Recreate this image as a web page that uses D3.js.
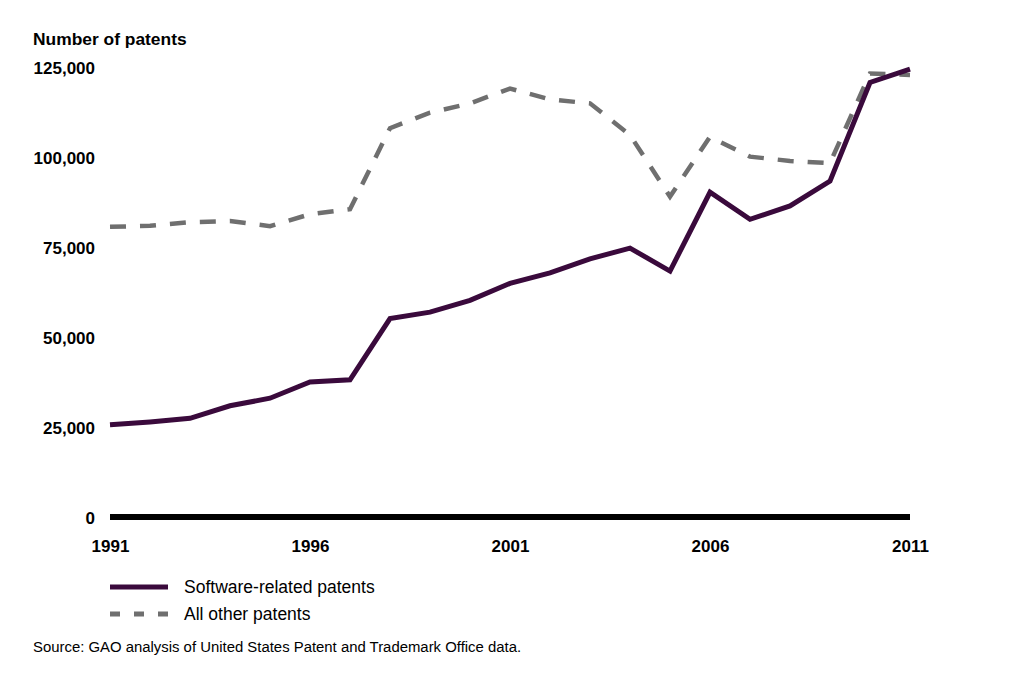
<!DOCTYPE html>
<html>
<head>
<meta charset="utf-8">
<script src="https://cdn.jsdelivr.net/npm/d3@7"></script>
<style>
  html, body { margin: 0; padding: 0; background: #fff; }
  svg { display: block; font-family: "Liberation Sans", Arial, sans-serif; }
</style>
</head>
<body>
<script>
const years = [1991,1992,1993,1994,1995,1996,1997,1998,1999,2000,2001,2002,2003,2004,2005,2006,2007,2008,2009,2010,2011];
const softwarePatents = [25600,26400,27400,30900,33000,37500,38100,55100,56900,60200,64900,67800,71700,74700,68300,90200,82700,86400,93300,120700,124400];
const otherPatents = [80600,80900,81900,82200,80800,84100,85500,108000,112300,114900,119000,116000,114900,106100,89000,105600,100100,98900,98300,123200,122800];
const yTicks = [0,25000,50000,75000,100000,125000];
const xTicks = [1991,1996,2001,2006,2011];
const seriesNames = ["Software-related patents","All other patents"];
const yTitle = "Number of patents";
const sourceNote = "Source: GAO analysis of United States Patent and Trademark Office data.";

const W = 1024, H = 679;
const svg = d3.select("body").append("svg").attr("width", W).attr("height", H);

const x = d3.scaleLinear().domain([1991, 2011]).range([110, 910]);
const y = d3.scaleLinear().domain([0, 125000]).range([517, 67]);

const purple = "#3a0a3c", grey = "#6f6f6f";

// Y title
svg.append("text").attr("x", 33).attr("y", 45)
  .attr("font-size", 17.4).attr("font-weight", "bold").attr("fill", "#000")
  .text(yTitle);

// Y axis labels
const yAxis = d3.axisLeft(y).tickValues(yTicks).tickSize(0).tickPadding(0)
  .tickFormat(d3.format(","));
const gy = svg.append("g").attr("transform", "translate(95,0)").call(yAxis);
gy.select(".domain").remove();
gy.selectAll("text").attr("font-size", 17).attr("font-weight", "bold")
  .attr("fill", "#000").attr("font-family", "Liberation Sans, Arial, sans-serif")
  .attr("dy", "0.36em");

// Lines
const line = d3.line().x((d, i) => x(years[i])).y(d => y(d));
svg.append("path").datum(otherPatents).attr("d", line)
  .attr("fill", "none").attr("stroke", grey).attr("stroke-width", 4.5)
  .attr("stroke-dasharray", "16,14").attr("stroke-linejoin", "miter");
svg.append("path").datum(softwarePatents).attr("d", line)
  .attr("fill", "none").attr("stroke", purple).attr("stroke-width", 5)
  .attr("stroke-linejoin", "miter");

// X axis
const xAxis = d3.axisBottom(x).tickValues(xTicks).tickSize(0).tickPadding(0)
  .tickFormat(d3.format("d"));
const gx = svg.append("g").attr("transform", "translate(0,517)").call(xAxis);
gx.select(".domain").attr("stroke", "#000").attr("stroke-width", 6)
  .attr("d", `M${x(1991)},0H${x(2011)}`);
gx.selectAll("text").attr("font-size", 17).attr("font-weight", "bold")
  .attr("fill", "#000").attr("font-family", "Liberation Sans, Arial, sans-serif")
  .attr("y", 35).attr("dy", 0);

// Legend
const lg = svg.append("g");
lg.append("line").attr("x1", 110).attr("x2", 168).attr("y1", 587).attr("y2", 587)
  .attr("stroke", purple).attr("stroke-width", 5);
lg.append("line").attr("x1", 110).attr("x2", 168).attr("y1", 614).attr("y2", 614)
  .attr("stroke", grey).attr("stroke-width", 5).attr("stroke-dasharray", "10,14");
lg.append("text").attr("x", 184).attr("y", 593).attr("font-size", 17.5).attr("fill", "#000")
  .text(seriesNames[0]);
lg.append("text").attr("x", 184).attr("y", 620).attr("font-size", 17.5).attr("fill", "#000")
  .text(seriesNames[1]);

// Source
svg.append("text").attr("x", 33).attr("y", 652).attr("font-size", 14.9).attr("fill", "#000")
  .text(sourceNote);
</script>
</body>
</html>
